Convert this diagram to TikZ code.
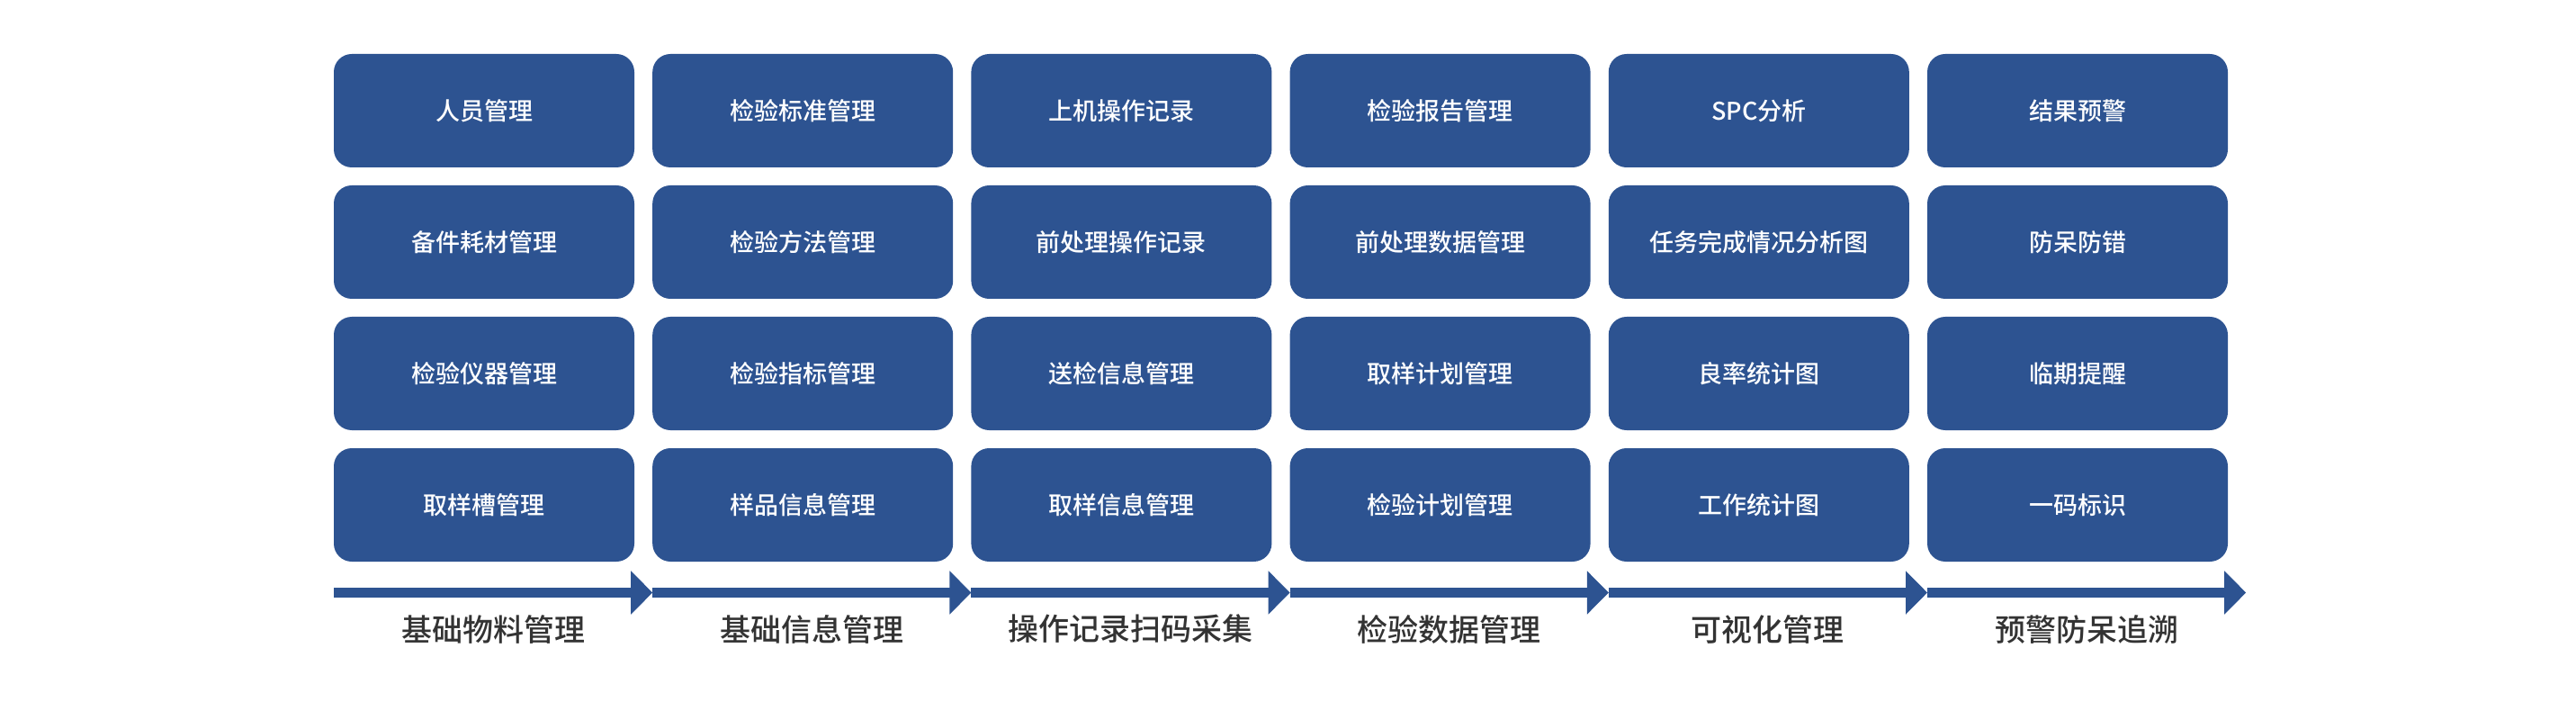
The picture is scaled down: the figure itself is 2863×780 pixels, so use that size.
\documentclass[tikz,border=0pt]{standalone}
\usepackage{fontspec}
\setmainfont{Noto Sans CJK SC}
\newfontfamily\medfont{Noto Sans CJK SC Medium}
\usetikzlibrary{arrows.meta}
\definecolor{boxblue}{HTML}{2D5391}
\definecolor{labelgray}{HTML}{333333}
\begin{document}
\begin{tikzpicture}
  [x=0.5pt,y=-0.5pt,every node/.style={inner sep=0pt}]
  \tikzstyle{item} = [rectangle,rounded corners=10pt,fill=boxblue,minimum width=167pt,minimum height=63pt,text=white,font=\medfont\fontsize{13.5pt}{16pt}\selectfont]
  \tikzstyle{stage} = [text=labelgray,font=\medfont\fontsize{17pt}{20pt}\selectfont]
  \tikzstyle{flow} = [draw=boxblue,fill=boxblue,line width=5.5pt,-{Triangle[length=12pt,width=23.5pt]}]
  \useasboundingbox (0,0) rectangle (2863,780);
  % boxes, one column each
\foreach \row/\name in {1/人员管理,2/备件耗材管理,3/检验仪器管理,4/取样槽管理}
   \node[item] (a\row) at (538,{123+146*(\row-1)}) {\name};
\foreach \row/\name in {1/检验标准管理,2/检验方法管理,3/检验指标管理,4/样品信息管理}
   \node[item] (b\row) at (892.2,{123+146*(\row-1)}) {\name};
\foreach \row/\name in {1/上机操作记录,2/前处理操作记录,3/送检信息管理,4/取样信息管理}
   \node[item] (c\row) at (1246.4,{123+146*(\row-1)}) {\name};
\foreach \row/\name in {1/检验报告管理,2/前处理数据管理,3/取样计划管理,4/检验计划管理}
   \node[item] (d\row) at (1600.6,{123+146*(\row-1)}) {\name};
\foreach \row/\name in {1/SPC分析,2/任务完成情况分析图,3/良率统计图,4/工作统计图}
   \node[item] (e\row) at (1954.8,{123+146*(\row-1)}) {\name};
\foreach \row/\name in {1/结果预警,2/防呆防错,3/临期提醒,4/一码标识}
   \node[item] (f\row) at (2309,{123+146*(\row-1)}) {\name};
  % timeline
\foreach \i in {0,...,6}
   \coordinate (s\i) at ({371+354.2*\i},658.5);
\foreach \source /\dest in {s0/s1,s1/s2,s2/s3,s3/s4,s4/s5,s5/s6}
   \draw[flow] (\source) -- (\dest);
\foreach \i/\name in {0/基础物料管理,1/基础信息管理,2/操作记录扫码采集,3/检验数据管理,4/可视化管理,5/预警防呆追溯}
   \node[stage] (l\i) at ({548+354.2*\i},699) {\name};

\end{tikzpicture}
\end{document}
